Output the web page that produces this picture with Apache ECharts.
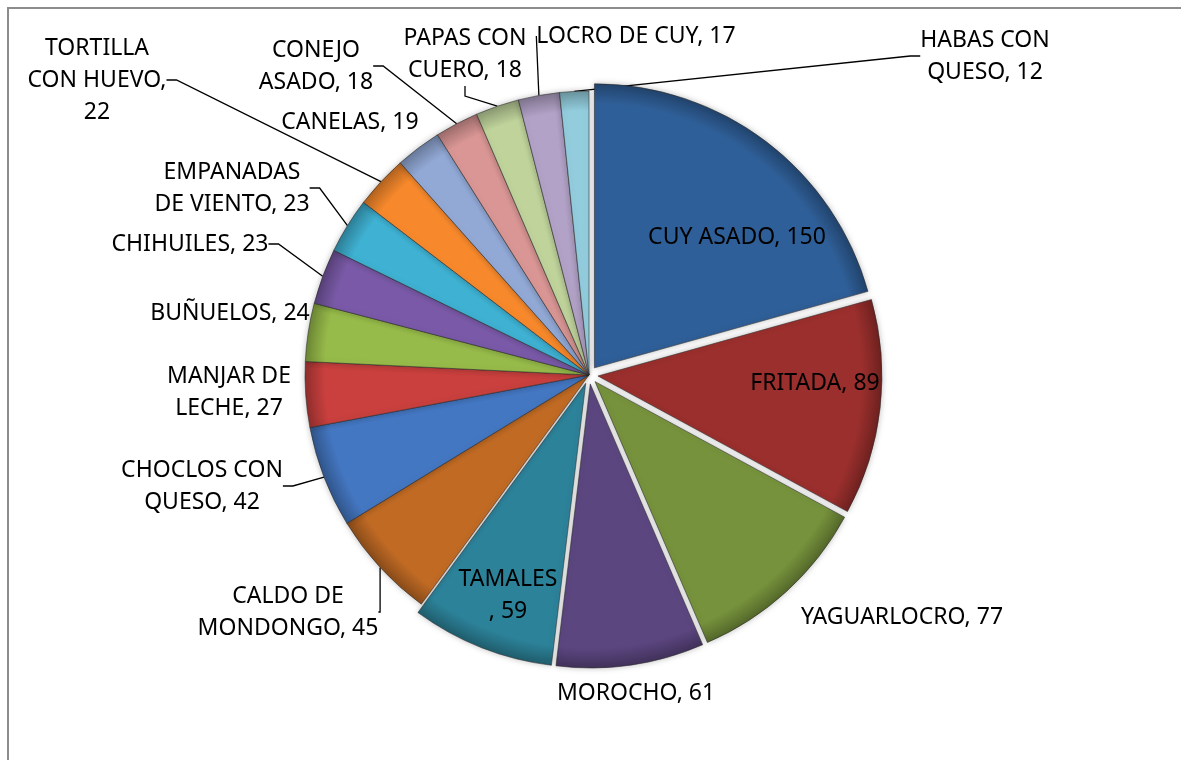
<!DOCTYPE html>
<html>
<head>
<meta charset="utf-8">
<script src="https://cdn.jsdelivr.net/npm/echarts@6/dist/echarts.min.js"></script>
<style>
html, body { margin: 0; padding: 0; background: #fff; }
#chart { width: 1181px; height: 760px; }
</style>
</head>
<body>
<div id="chart"></div>
<script>
// platos y votos, en el orden de las agujas del reloj desde las 12
var platos = ['CUY ASADO', 'FRITADA', 'YAGUARLOCRO', 'MOROCHO', 'TAMALES', 'CALDO DE MONDONGO',
  'CHOCLOS CON QUESO', 'MANJAR DE LECHE', 'BUÑUELOS', 'CHIHUILES', 'EMPANADAS DE VIENTO',
  'TORTILLA CON HUEVO', 'CANELAS', 'CONEJO ASADO', 'PAPAS CON CUERO', 'LOCRO DE CUY', 'HABAS CON QUESO']
var votos = [150, 89, 77, 61, 59, 45, 42, 27, 24, 23, 23, 22, 19, 18, 18, 17, 12]
// texto de cada etiqueta tal como se parte en el original (el valor va al final)
var etiquetas = ['CUY ASADO, ', 'FRITADA, ', 'YAGUARLOCRO, ', 'MOROCHO, ', 'TAMALES\n, ', 'CALDO DE\nMONDONGO, ',
  'CHOCLOS CON\nQUESO, ', 'MANJAR DE\nLECHE, ', 'BUÑUELOS, ', 'CHIHUILES, ', 'EMPANADAS\nDE VIENTO, ',
  'TORTILLA\nCON HUEVO,\n', 'CANELAS, ', 'CONEJO\nASADO, ', 'PAPAS CON\nCUERO, ', 'LOCRO DE CUY, ', 'HABAS CON\nQUESO, ']
var colores = ['#2f5f98', '#9a2f2d', '#76923c', '#5c4680', '#2c8299', '#c06a24', '#4477c2', '#c9403e',
  '#97bb4a', '#7a5aa8', '#3fb1d2', '#f7892c', '#92a9d6', '#d99694', '#bfd39b', '#b2a2c7', '#93cddd']
var separados = ['CUY ASADO', 'FRITADA', 'YAGUARLOCRO', 'MOROCHO', 'TAMALES']
var dentro = ['CUY ASADO', 'FRITADA', 'TAMALES']
var conLinea = ['CALDO DE MONDONGO', 'CHOCLOS CON QUESO', 'CHIHUILES', 'EMPANADAS DE VIENTO',
  'TORTILLA CON HUEVO', 'CONEJO ASADO', 'PAPAS CON CUERO', 'LOCRO DE CUY', 'HABAS CON QUESO']

// donde quedaron las etiquetas en el grafico original (centro del texto)
var posEtiquetas = [[737, 237], [815, 383], [902, 617], [636, 693], [508, 595], [288, 612],
  [202, 486], [229, 392], [230, 313], [190, 244], [232, 188],
  [97, 80], [350, 122], [316, 66], [465, 54], [636, 36], [985, 56]]

var cx = 589, cy = 375, r = 284

function oscurecer (c, f) {
  var a = echarts.color.parse(c)
  return 'rgb(' + Math.round(a[0] * f) + ',' + Math.round(a[1] * f) + ',' + Math.round(a[2] * f) + ')'
}

function relleno (c) {
  return {
    type: 'radial', x: cx, y: cy, r: r, global: true,
    colorStops: [
      { offset: 0, color: c },
      { offset: 0.93, color: c },
      { offset: 1, color: oscurecer(c, 0.72) }
    ]
  }
}

// porciones (con las grandes separadas)
var porciones = platos.map(function (p, i) {
  return {
    name: p,
    value: votos[i],
    selected: separados.indexOf(p) >= 0,
    itemStyle: { color: relleno(colores[i]) }
  }
})

// misma torta, invisible, solo para las etiquetas
var textos = platos.map(function (p, i) {
  var d = { name: p, value: votos[i] }
  if (dentro.indexOf(p) >= 0) {
    d.label = { position: 'inside' }
  } else if (conLinea.indexOf(p) < 0) {
    d.labelLine = { lineStyle: { opacity: 0 } }
  }
  return d
})

var chart = echarts.init(document.getElementById('chart'))
chart.setOption({
  animation: false,
  graphic: [{
    type: 'polyline',
    shape: { points: [[8, 800], [8, 8], [1200, 8]] },
    style: { fill: null, stroke: '#8c8c8c', lineWidth: 2 },
    silent: true
  }],
  series: [{
    type: 'pie',
    center: [cx, cy],
    radius: [0, r],
    startAngle: 90,
    clockwise: true,
    selectedMode: 'multiple',
    selectedOffset: 9,
    data: porciones,
    itemStyle: {
      borderColor: 'rgba(40,40,40,0.55)',
      borderWidth: 1,
      shadowBlur: 6,
      shadowColor: 'rgba(0,0,0,0.25)'
    },
    label: { show: false },
    labelLine: { show: false },
    emphasis: { disabled: true }
  }, {
    type: 'pie',
    center: [cx, cy],
    radius: [0, r],
    startAngle: 90,
    clockwise: true,
    silent: true,
    avoidLabelOverlap: false,
    data: textos,
    itemStyle: { color: 'rgba(0,0,0,0)', borderWidth: 0 },
    label: {
      show: true,
      color: '#000',
      fontFamily: 'Noto Sans',
      fontSize: 23,
      lineHeight: 32,
      align: 'center',
      formatter: function (p) {
        return etiquetas[p.dataIndex] + p.value
      }
    },
    labelLine: {
      show: true,
      length: 14,
      length2: 10,
      lineStyle: { color: '#000', width: 1.3 }
    },
    labelLayout: function (params) {
      var p = posEtiquetas[params.dataIndex]
      return { x: p[0], y: p[1], align: 'center', verticalAlign: 'middle' }
    },
    emphasis: { disabled: true }
  }]
})
</script>
</body>
</html>
